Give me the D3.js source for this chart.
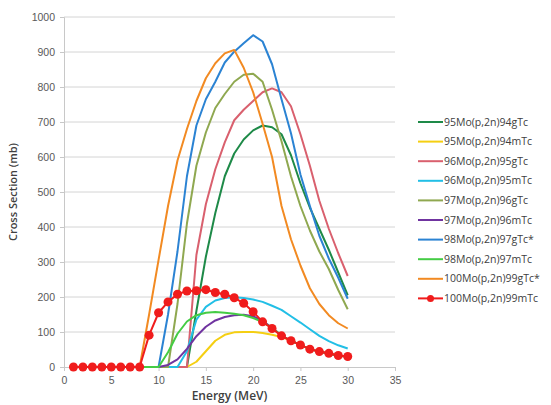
<!DOCTYPE html>
<html>
<head>
<meta charset="utf-8">
<script src="https://cdn.jsdelivr.net/npm/d3@7"></script>
<style>
  body { margin: 0; background: #fff; }
  svg { font-family: "Open Sans", "Liberation Sans", sans-serif; }
  .grid line { stroke: #d4d4d4; }
  .tick text { fill: #595959; font-size: 10.5px; }
</style>
</head>
<body>
<div id="vis"></div>
<script>
// energies (MeV) and cross sections (mb)
var energy = [1,2,3,4,5,6,7,8,9,10,11,12,13,14,15,16,17,18,19,20,21,22,23,24,25,26,27,28,29,30];

var mo95g = [0,0,0,0,0,0,0,0,0,0,0,0,0,160,315,440,545,610,650,676,690,685,665,605,525,455,395,335,270,205];
var mo95m = [0,0,0,0,0,0,0,0,0,0,0,0,0,15,45,75,92,99,100,100,97,92,86,75,63,51,44,38,33,29];
var mo96g = [0,0,0,0,0,0,0,0,0,0,0,0,0,320,465,565,642,705,735,760,785,796,785,745,665,575,475,395,325,260];
var mo96m = [0,0,0,0,0,0,0,0,0,0,0,0,45,135,172,190,197,199,197,193,186,175,163,145,127,108,89,74,62,53];
var mo97g = [0,0,0,0,0,0,0,0,0,0,0,180,410,575,670,740,780,815,835,838,815,735,645,545,460,390,330,280,220,165];
var mo97m = [0,0,0,0,0,0,0,0,0,0,6,22,52,88,115,133,143,148,149,145,132,112,90,75,63,51,44,38,33,29];
var mo98g = [0,0,0,0,0,0,0,0,0,0,150,330,545,690,765,815,870,901,925,948,930,865,765,668,550,460,375,310,255,195];
var mo98m = [0,0,0,0,0,0,0,0,0,0,42,95,130,148,155,157,155,152,148,140,128,112,90,75,63,51,44,38,33,29];
var mo100g = [0,0,0,0,0,0,0,0,150,306,460,590,680,760,825,868,896,906,855,785,695,600,460,365,290,225,180,148,125,110];
var mo100m = [0,0,0,0,0,0,0,0,91,155,186,208,217,218,221,213,208,198,182,158,129,110,89,75,63,51,44,39,33,30];

var names = ["95Mo(p,2n)94gTc","95Mo(p,2n)94mTc","96Mo(p,2n)95gTc","96Mo(p,2n)95mTc","97Mo(p,2n)96gTc",
             "97Mo(p,2n)96mTc","98Mo(p,2n)97gTc*","98Mo(p,2n)97mTc","100Mo(p,2n)99gTc*","100Mo(p,2n)99mTc"];
var colors = ["#1e8a48","#f5cf12","#d9606e","#22bfe6","#8fa850","#7034a0","#2b83d3","#44cc44","#f28a22","#f01c1c"];
var values = [mo95g, mo95m, mo96g, mo96m, mo97g, mo97m, mo98g, mo98m, mo100g, mo100m];

var xTicks = [0,5,10,15,20,25,30,35];
var yTicks = [0,100,200,300,400,500,600,700,800,900,1000];

var W = 551, H = 405;
var margin = {top: 17, left: 64, right: 156, bottom: 38};

var svg = d3.select("#vis").append("svg")
    .attr("width", W)
    .attr("height", H);

var x = d3.scaleLinear().domain([0, 35]).range([margin.left, W - margin.right]);
var y = d3.scaleLinear().domain([0, 1000]).range([H - margin.bottom, margin.top]);

//horizontal gridlines
svg.append("g")
    .attr("class", "grid")
    .selectAll("line")
    .data(yTicks.slice(1))
    .enter().append("line")
    .attr("x1", x(0)).attr("x2", x(35))
    .attr("y1", function(d){ return y(d); })
    .attr("y2", function(d){ return y(d); });

//y axis
var yAxis = svg.append("g")
    .attr("transform", "translate(" + x(0) + ",0)")
    .call(d3.axisLeft(y).tickValues(yTicks).tickFormat(d3.format("d")).tickSize(4).tickPadding(5));
yAxis.select(".domain").attr("stroke", "#c8c8c8");
yAxis.selectAll(".tick line").attr("stroke", "#c8c8c8");

//x axis
var xAxis = svg.append("g")
    .attr("transform", "translate(0," + y(0) + ")")
    .call(d3.axisBottom(x).tickValues(xTicks).tickSize(4).tickPadding(6));
xAxis.select(".domain").attr("stroke", "#c8c8c8");
xAxis.selectAll(".tick line").attr("stroke", "#c8c8c8");

//axis titles
svg.append("text")
    .attr("transform", "translate(17," + ((y(0) + y(1000)) / 2) + ") rotate(-90)")
    .attr("text-anchor", "middle")
    .attr("fill", "#404040")
    .style("font-size", "11px")
    .style("font-weight", "600")
    .text("Cross Section (mb)");

svg.append("text")
    .attr("x", (x(0) + x(35)) / 2)
    .attr("y", 400)
    .attr("text-anchor", "middle")
    .attr("fill", "#404040")
    .style("font-size", "12px")
    .style("font-weight", "600")
    .text("Energy (MeV)");

var line = d3.line()
    .x(function(d, i){ return x(energy[i]); })
    .y(function(d){ return y(d); });

//series
values.forEach(function(v, k){
    svg.append("path")
        .attr("d", line(v))
        .attr("fill", "none")
        .attr("stroke", colors[k])
        .attr("stroke-width", 2)
        .attr("stroke-linejoin", "round");
});

//markers for the last series
svg.append("g").selectAll("circle")
    .data(mo100m)
    .enter().append("circle")
    .attr("cx", function(d, i){ return x(energy[i]); })
    .attr("cy", function(d){ return y(d); })
    .attr("r", 4.5)
    .attr("fill", colors[9]);

//legend
var legend = svg.append("g");
names.forEach(function(n, k){
    var ly = 122 + k * 19.6;
    legend.append("line")
        .attr("x1", 418).attr("x2", 443)
        .attr("y1", ly).attr("y2", ly)
        .attr("stroke", colors[k])
        .attr("stroke-width", 2);
    if (k == 9)
        legend.append("circle").attr("cx", 430.5).attr("cy", ly).attr("r", 3.5).attr("fill", colors[k]);
    legend.append("text")
        .attr("x", 444)
        .attr("y", ly)
        .attr("dy", "0.35em")
        .attr("fill", "#404040")
        .style("font-size", "10.5px")
        .text(n);
});
</script>
</body>
</html>
